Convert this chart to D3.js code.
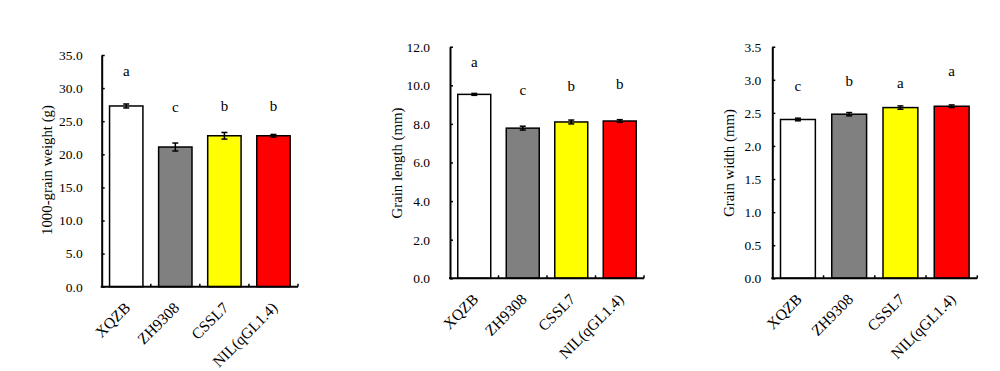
<!DOCTYPE html>
<html>
<head>
<meta charset="utf-8">
<script src="https://cdn.jsdelivr.net/npm/d3@7"></script>
<style>
    body { margin: 0; background: #fff; }
    svg { display: block; font-family: "Liberation Serif", "Times New Roman", serif; }
</style>
</head>
<body>
<svg id="chart" width="1000" height="371"></svg>
<script>
// lines
var lines = ["XQZB", "ZH9308", "CSSL7", "NIL(qGL1.4)"];
var barColors = ["#ffffff", "#808080", "#ffff00", "#ff0000"];

// 1000-grain weight
var weightMean = [27.3, 21.1, 22.8, 22.8];
var weightErr = [0.3, 0.6, 0.5, 0.2];
var weightSig = ["a", "c", "b", "b"];
var weightSigPos = [32.6, 27.2, 27.4, 27.4];
var weightTicks = [0, 5, 10, 15, 20, 25, 30, 35];

// grain length
var lengthMean = [9.53, 7.78, 8.1, 8.15];
var lengthErr = [0.05, 0.1, 0.1, 0.07];
var lengthSig = ["a", "c", "b", "b"];
var lengthSigPos = [11.2, 9.76, 9.98, 10.07];
var lengthTicks = [0, 2, 4, 6, 8, 10, 12];

// grain width
var widthMean = [2.4, 2.48, 2.58, 2.6];
var widthErr = [0.02, 0.025, 0.025, 0.02];
var widthSig = ["c", "b", "a", "a"];
var widthSigPos = [2.91, 2.99, 2.95, 3.14];
var widthTicks = [0, 0.5, 1, 1.5, 2, 2.5, 3, 3.5];

var svg = d3.select("#chart");

var panels = [
    {title: "1000-grain weight (g)", mean: weightMean, err: weightErr, sig: weightSig, sigPos: weightSigPos, ticks: weightTicks,
     left: 101.7, right: 298, top: 55, bottom: 286.7, titleX: 47, titleY: 170, tickPad: 19},
    {title: "Grain length (mm)", mean: lengthMean, err: lengthErr, sig: lengthSig, sigPos: lengthSigPos, ticks: lengthTicks,
     left: 450, right: 644, top: 46.7, bottom: 278.3, titleX: 397, titleY: 163, tickPad: 20},
    {title: "Grain width (mm)", mean: widthMean, err: widthErr, sig: widthSig, sigPos: widthSigPos, ticks: widthTicks,
     left: 772.3, right: 977.3, top: 46.7, bottom: 278.3, titleX: 729, titleY: 163, tickPad: 11}
];

panels.forEach(function(p) {
    var g = svg.append("g");
    var x = d3.scaleBand().domain(lines).range([p.left, p.right]).paddingInner(0.32).paddingOuter(0.16);
    var y = d3.scaleLinear().domain([0, d3.max(p.ticks)]).range([p.bottom, p.top]);

    // bars
    g.selectAll("rect.bar")
        .data(p.mean)
        .enter()
        .append("rect")
        .attr("class", "bar")
        .attr("x", function(d, i) { return x(lines[i]); })
        .attr("y", function(d) { return y(d); })
        .attr("width", x.bandwidth())
        .attr("height", function(d) { return y(0) - y(d); })
        .attr("fill", function(d, i) { return barColors[i]; })
        .attr("stroke", "#000")
        .attr("stroke-width", 1.5);

    // error bars
    var eb = g.selectAll("g.err")
        .data(p.mean)
        .enter()
        .append("g")
        .attr("class", "err")
        .attr("transform", function(d, i) {
            return "translate(" + (x(lines[i]) + x.bandwidth() / 2) + ",0)";
        });
    eb.append("line")
        .attr("y1", function(d, i) { return y(d - p.err[i]); })
        .attr("y2", function(d, i) { return y(d + p.err[i]); })
        .attr("stroke", "#000").attr("stroke-width", 1.5);
    eb.append("line")
        .attr("x1", -3).attr("x2", 3)
        .attr("y1", function(d, i) { return y(d - p.err[i]); })
        .attr("y2", function(d, i) { return y(d - p.err[i]); })
        .attr("stroke", "#000").attr("stroke-width", 1.5);
    eb.append("line")
        .attr("x1", -3).attr("x2", 3)
        .attr("y1", function(d, i) { return y(d + p.err[i]); })
        .attr("y2", function(d, i) { return y(d + p.err[i]); })
        .attr("stroke", "#000").attr("stroke-width", 1.5);

    // significance letters
    g.selectAll("text.sig")
        .data(p.sig)
        .enter()
        .append("text")
        .attr("class", "sig")
        .attr("x", function(d, i) { return x(lines[i]) + x.bandwidth() / 2; })
        .attr("y", function(d, i) { return y(p.sigPos[i]); })
        .attr("dy", "0.35em")
        .attr("text-anchor", "middle")
        .attr("font-size", 15)
        .text(function(d) { return d; });

    // y axis
    var yAxis = d3.axisLeft(y)
        .tickValues(p.ticks)
        .tickFormat(d3.format(".1f"))
        .tickSizeInner(-3)
        .tickSizeOuter(0)
        .tickPadding(p.tickPad);
    var ya = g.append("g")
        .attr("transform", "translate(" + p.left + ",0)")
        .call(yAxis);
    ya.select(".domain").attr("stroke-width", 2);
    ya.selectAll(".tick line").attr("stroke-width", 1.5);
    ya.selectAll(".tick text")
        .attr("font-family", "Liberation Serif, Times New Roman, serif")
        .attr("font-size", 13.5)
        .attr("fill", "#000");

    // x axis line with inner ticks at band boundaries
    g.append("line")
        .attr("x1", p.left - 1).attr("x2", p.right)
        .attr("y1", p.bottom).attr("y2", p.bottom)
        .attr("stroke", "#000").attr("stroke-width", 2);
    g.selectAll("line.xtick")
        .data(lines)
        .enter()
        .append("line")
        .attr("class", "xtick")
        .attr("x1", function(d) { return x(d) - x.step() * x.paddingOuter() + x.step(); })
        .attr("x2", function(d) { return x(d) - x.step() * x.paddingOuter() + x.step(); })
        .attr("y1", p.bottom).attr("y2", p.bottom - 3)
        .attr("stroke", "#000").attr("stroke-width", 1.5);

    // category labels
    g.selectAll("text.cat")
        .data(lines)
        .enter()
        .append("text")
        .attr("class", "cat")
        .attr("text-anchor", "end")
        .attr("font-size", 15.5)
        .attr("transform", function(d) {
            return "translate(" + (x(d) + x.bandwidth() / 2 + 5) + "," + (p.bottom + 22) + ") rotate(-45)";
        })
        .text(function(d) { return d; });

    // y title
    g.append("text")
        .attr("text-anchor", "middle")
        .attr("font-size", 14.8)
        .attr("transform", "translate(" + p.titleX + "," + p.titleY + ") rotate(-90)")
        .attr("dy", "0.35em")
        .text(p.title);
});
</script>
</body>
</html>
